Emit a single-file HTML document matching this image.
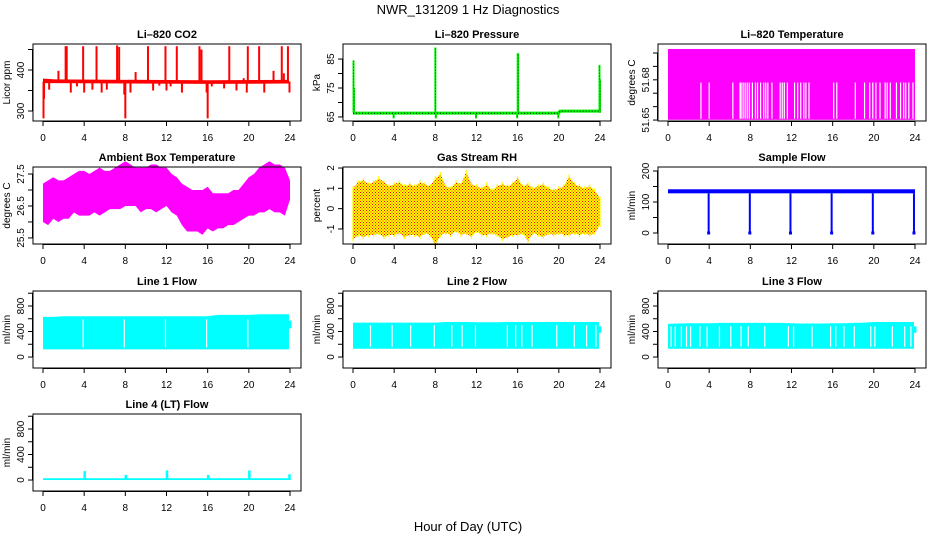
<!DOCTYPE html>
<html><head><meta charset="utf-8"><style>
body{margin:0;background:#fff}
svg{display:block;font-family:"Liberation Sans",Arial,sans-serif}
</style></head><body>
<svg id="chart" width="936" height="540" viewBox="0 0 936 540" xmlns="http://www.w3.org/2000/svg">
<defs>
<pattern id="rhpat" width="3" height="3" patternUnits="userSpaceOnUse"><rect width="3" height="3" fill="#ffff00"/><rect x="0" y="0" width="1" height="1" fill="#ff0000"/><rect x="1.5" y="1.5" width="1" height="1" fill="#ff0000"/></pattern>
</defs>
<text x="468" y="14" font-size="13" text-anchor="middle">NWR_131209 1 Hz Diagnostics</text>
<text x="468" y="531" font-size="13" text-anchor="middle">Hour of Day (UTC)</text>
</svg>
<script>
// ---- data ----
const xTicks=[0,4,8,12,16,20,24];
const co2BandHours=[0,1.2,16,23.9];
const co2BandLo=[368,368,366,367];
const co2BandHi=[379,377,375,376];
const co2SpikeHours=[0.05,0.1,0.6,1.5,2.2,2.3,2.7,3.3,3.9,4.0,4.8,5.2,5.7,6.2,7.2,7.4,7.9,8.0,8.5,9.0,10.2,10.7,11.3,11.9,12.0,12.4,13.0,13.5,15.2,15.4,15.9,16.0,16.4,17.6,18.1,18.8,19.5,19.8,19.9,21.0,21.5,22.4,23.2,23.4,23.8,23.95];
const co2SpikeVals=[282,330,352,398,458,458,345,360,458,345,352,458,345,352,460,456,340,282,345,395,458,350,362,458,350,360,458,345,458,450,345,282,360,355,458,350,380,345,458,458,345,398,458,392,458,345];
const presBaseHours=[0,20,20.1,24];
const presBaseVals=[66.3,66.3,67,67];
const presSpikeHours=[0.05,0.1,3.95,8.0,8.05,11.95,15.95,16.0,16.05,19.95,23.95,24];
const presSpikeVals=[84.5,75,64.5,89,64.5,64.5,64.5,87,87,64.5,83,78];
const ltLo=51.6502, ltHi=51.703, ltMid=51.678;
const ltGapHours=[3.2,4.0,6.3,7.0,7.1,7.3,7.5,7.7,7.9,8.2,8.5,8.7,9.0,9.3,9.5,9.7,10.1,10.9,11.1,11.3,11.6,12.3,12.6,12.9,13.2,13.4,13.7,16.1,16.4,18.2,19.1,19.6,19.9,20.2,20.6,21.1,21.3,21.6,22.2,22.6,22.9,23.1,23.4,23.8];
const ambHi=[27.2,27.3,27.4,27.3,27.3,27.4,27.5,27.6,27.6,27.5,27.6,27.7,27.6,27.6,27.7,27.8,27.9,27.8,27.7,27.7,27.7,27.8,27.8,27.7,27.7,27.5,27.4,27.2,27.1,27.0,27.0,27.0,27.1,26.9,26.9,26.9,26.9,27.0,27.0,27.2,27.4,27.5,27.7,27.8,27.9,27.8,27.8,27.7,27.3];
const ambLo=[26.0,25.9,26.1,26.0,26.1,26.1,26.3,26.2,26.2,26.2,26.3,26.2,26.3,26.4,26.4,26.4,26.5,26.5,26.5,26.3,26.4,26.4,26.3,26.4,26.5,26.3,26.2,25.9,25.7,25.7,25.7,25.6,25.8,25.7,25.8,25.8,25.9,25.9,26.0,26.1,26.2,26.2,26.3,26.3,26.4,26.3,26.3,26.2,26.7];
const rhHi=[1.0,1.3,1.4,1.2,1.3,1.5,1.3,1.1,1.2,1.3,1.1,1.2,1.1,1.3,1.2,1.1,1.5,1.7,1.1,1.0,1.3,1.2,1.8,1.2,1.1,1.0,1.2,0.9,1.1,1.2,1.1,1.2,1.5,1.1,1.2,1.0,1.1,1.2,1.0,0.9,1.0,1.1,1.6,1.2,1.1,1.0,1.1,0.9,0.5];
const rhLo=[-1.5,-1.3,-1.4,-1.3,-1.3,-1.2,-1.4,-1.3,-1.3,-1.2,-1.4,-1.3,-1.3,-1.4,-1.2,-1.3,-1.8,-1.3,-1.2,-1.3,-1.1,-1.3,-1.2,-1.4,-1.1,-1.3,-1.3,-1.2,-1.3,-1.5,-1.4,-1.3,-1.3,-1.2,-1.6,-1.2,-1.3,-1.4,-1.2,-1.3,-1.2,-1.3,-1.3,-1.2,-1.3,-1.2,-1.3,-1.2,-0.8];
const sfLo=128, sfHi=141;
const sfDropHours=[3.95,7.95,11.9,15.9,19.9,23.9];
const sfDropVals=[0,0,0,0,0,0];
const flowHours=[0,1,2,3,4,5,6,7,8,9,10,11,12,13,14,15,16,17,18,19,20,21,22,23,23.9];
const l1Hi=[630,630,640,640,640,640,640,640,640,640,640,640,640,640,640,640,640,660,660,660,660,670,670,670,670];
const l1Lo=[120,120,120,120,120,120,120,120,120,120,120,120,120,120,120,120,120,120,120,120,120,120,120,120,120];
const l1EndHi=570, l1EndLo=450;
const l1GapHours=[3.9,7.9,11.9,15.9,19.9];
const l2Hi=[540,540,540,540,540,540,540,540,540,550,550,550,545,545,545,550,550,550,550,550,550,550,550,550,550];
const l2Lo=[130,130,130,130,130,130,130,130,130,130,130,130,130,130,130,130,130,130,130,130,130,130,130,130,130];
const l2EndHi=480, l2EndLo=380;
const l2GapHours=[1.7,3.8,5.6,7.9,9.6,10.6,11.9,15.0,15.8,16.4,17.4,19.8,21.5,22.7,23.6];
const l3Hi=[520,525,530,530,530,535,535,535,535,535,535,535,530,525,525,525,530,530,535,540,550,550,550,550,550];
const l3Lo=[130,130,130,130,130,130,130,130,130,130,130,130,130,130,130,130,130,130,130,130,130,130,130,130,130];
const l3EndHi=480, l3EndLo=380;
const l3GapHours=[0.3,0.7,1.3,1.8,2.2,3.1,3.8,5.0,6.1,7.1,7.8,9.4,11.7,12.2,14.0,15.8,16.3,17.1,18.1,19.7,20.1,21.8,23.0,23.6];
const l4Lo=0, l4Hi=28;
const l4SpikeHours=[4.0,8.0,12.0,16.0,20.0,23.9];
const l4SpikeVals=[140,80,150,80,150,90];

// ---- layout ----
const NS="http://www.w3.org/2000/svg";
const svg=document.getElementById('chart');
const colL=[33,343,658], rowT=[44,167,291,414], W=268, H=77;
function mk(tag,attrs,parent){const e=document.createElementNS(NS,tag);for(const k in attrs)e.setAttribute(k,attrs[k]);(parent||svg).appendChild(e);return e;}
function panel(c,r,title,ylab,dlo,dhi,ticks,labels){
  const L=colL[c],T=rowT[r];
  const g=mk('g',{});
  
  
  const p={g,L,T,x:h=>L+10+h*247/24,y:v=>T+H-(v-dlo)/(dhi-dlo)*H};
  p.plot=mk('g',{},g);
  p.finish=function(){
    const b=mk('rect',{x:L,y:T,width:W,height:H,fill:'none',stroke:'#000','stroke-width':1},g);
    
    
    const t=mk('text',{x:L+W/2,y:T-6,'font-size':11,'font-weight':'bold','text-anchor':'middle'},g);
    t.textContent=title;
    
    
    const yl=mk('text',{transform:`translate(${L-23},${T+H/2}) rotate(-90)`,'font-size':10,'text-anchor':'middle'},g);
    yl.textContent=ylab;
    
    
    const xb=T+H;
    mk('line',{x1:p.x(0),x2:p.x(24),y1:xb+0.5,y2:xb+0.5,stroke:'#000'},g);
    xTicks.forEach(h=>{
      mk('line',{x1:p.x(h),x2:p.x(h),y1:xb,y2:xb+5,stroke:'#000'},g);
      const tl=mk('text',{x:p.x(h),y:xb+20,'font-size':10,'text-anchor':'middle'},g);
      tl.textContent=h;
      
      
    });
    mk('line',{x1:L-0.5,x2:L-0.5,y1:p.y(ticks[0]),y2:p.y(ticks[ticks.length-1]),stroke:'#000'},g);
    ticks.forEach(v=>{
      mk('line',{x1:L-5,x2:L,y1:p.y(v),y2:p.y(v),stroke:'#000'},g);
    });
    labels.forEach(v=>{
      const tl=mk('text',{transform:`translate(${L-9},${p.y(v)}) rotate(-90)`,'font-size':10,'text-anchor':'middle'},g);
      tl.textContent=v;
      
      
    });
  };
  return p;
}
function vline(p,h,v1,v2,col,w){return mk('line',{x1:p.x(h),x2:p.x(h),y1:p.y(v1),y2:p.y(v2),stroke:col,'stroke-width':w||1.5},p.plot);}
function band(p,hours,hi,lo,fill){
  let pts=hours.map((h,i)=>p.x(h)+','+p.y(hi[i]));
  for(let i=hours.length-1;i>=0;i--)pts.push(p.x(hours[i])+','+p.y(lo[i]));
  return mk('polygon',{points:pts.join(' '),fill:fill},p.plot);
}
const halfHourly=Array.from({length:49},(_,i)=>i/2);

// CO2
let p=panel(0,0,'Li–820 CO2','Licor ppm',275.6,463.4,[300,350,400,450],[300,400]);
co2SpikeHours.forEach((h,i)=>{const s=vline(p,h,372,co2SpikeVals[i],'#ff0000',2);});
band(p,co2BandHours,co2BandHi,co2BandLo,'#ff0000');
p.finish();

// Pressure
p=panel(1,0,'Li–820 Pressure','kPa',63.6,90.2,[65,70,75,80,85],[65,75,85]);
presSpikeHours.forEach((h,i)=>{vline(p,h,66.5,presSpikeVals[i],'#00ee00',2);vline(p,h,66.5,presSpikeVals[i],'#000',0.6).setAttribute('stroke-dasharray','1,2');});
mk('polyline',{points:presBaseHours.map((h,i)=>p.x(h)+','+p.y(presBaseVals[i])).join(' '),fill:'none',stroke:'#00ee00','stroke-width':3},p.plot);
mk('polyline',{points:presBaseHours.map((h,i)=>p.x(h)+','+p.y(presBaseVals[i])).join(' '),fill:'none',stroke:'#000','stroke-width':0.8,'stroke-dasharray':'1,2'},p.plot);
p.finish();

// Li temp
p=panel(2,0,'Li–820 Temperature','degrees C',51.6493,51.7067,[51.65,51.66,51.67,51.68,51.69,51.70],[51.65,51.68]);
mk('rect',{x:p.x(0),y:p.y(ltHi),width:p.x(24)-p.x(0),height:p.y(ltLo)-p.y(ltHi),fill:'#ff00ff'},p.plot);
ltGapHours.forEach(h=>vline(p,h,ltMid,ltLo+0.0008,'#fff',1.2));
p.finish();

// Ambient
p=panel(0,1,'Ambient Box Temperature','degrees C',25.31,27.72,[25.5,26,26.5,27,27.5],[25.5,26.5,27.5]);
band(p,halfHourly,ambHi,ambLo,'#ff00ff');
p.finish();

// RH
p=panel(1,1,'Gas Stream RH','percent',-1.74,2.05,[-1,0,1,2],[-1,0,1,2]);
halfHourly.forEach((h,i)=>vline(p,h,rhLo[i]-0.1,rhHi[i]+0.1,'#ffff00',1.2));
band(p,halfHourly,rhHi,rhLo,'url(#rhpat)');
p.finish();

// Sample flow
p=panel(2,1,'Sample Flow','ml/min',-35.5,212.9,[0,50,100,150,200],[0,100,200]);
mk('rect',{x:p.x(0),y:p.y(sfHi),width:p.x(24)-p.x(0),height:p.y(sfLo)-p.y(sfHi),fill:'#0000ff'},p.plot);
sfDropHours.forEach((h,i)=>{vline(p,h,sfLo,sfDropVals[i],'#0000ff',2);mk('rect',{x:p.x(h)-1.5,y:p.y(sfDropVals[i])-1.5,width:3,height:3,fill:'#0000ff'},p.plot);});
p.finish();

// Line flows
function flowPanel(c,r,title,hi,lo,endHi,endLo,gaps){
  const q=panel(c,r,title,'ml/min',-172,1035,[0,200,400,600,800,1000],[0,400,800]);
  band(q,flowHours,hi,lo,'#00ffff');
  vline(q,24,endLo,endHi,'#00ffff',3);
  gaps.forEach(h=>vline(q,h,lo[0]+30,hi[0]-40,'#fff',1.2));
  q.finish();
}
flowPanel(0,2,'Line 1 Flow',l1Hi,l1Lo,l1EndHi,l1EndLo,l1GapHours);
flowPanel(1,2,'Line 2 Flow',l2Hi,l2Lo,l2EndHi,l2EndLo,l2GapHours);
flowPanel(2,2,'Line 3 Flow',l3Hi,l3Lo,l3EndHi,l3EndLo,l3GapHours);

p=panel(0,3,'Line 4 (LT) Flow','ml/min',-172,1035,[0,200,400,600,800,1000],[0,400,800]);
mk('rect',{x:p.x(0),y:p.y(l4Hi),width:p.x(24)-p.x(0),height:p.y(l4Lo)-p.y(l4Hi),fill:'#00ffff'},p.plot);
l4SpikeHours.forEach((h,i)=>vline(p,h+0.05,l4Lo,l4SpikeVals[i],'#00ffff',2.5));
p.finish();
</script>
</body></html>
